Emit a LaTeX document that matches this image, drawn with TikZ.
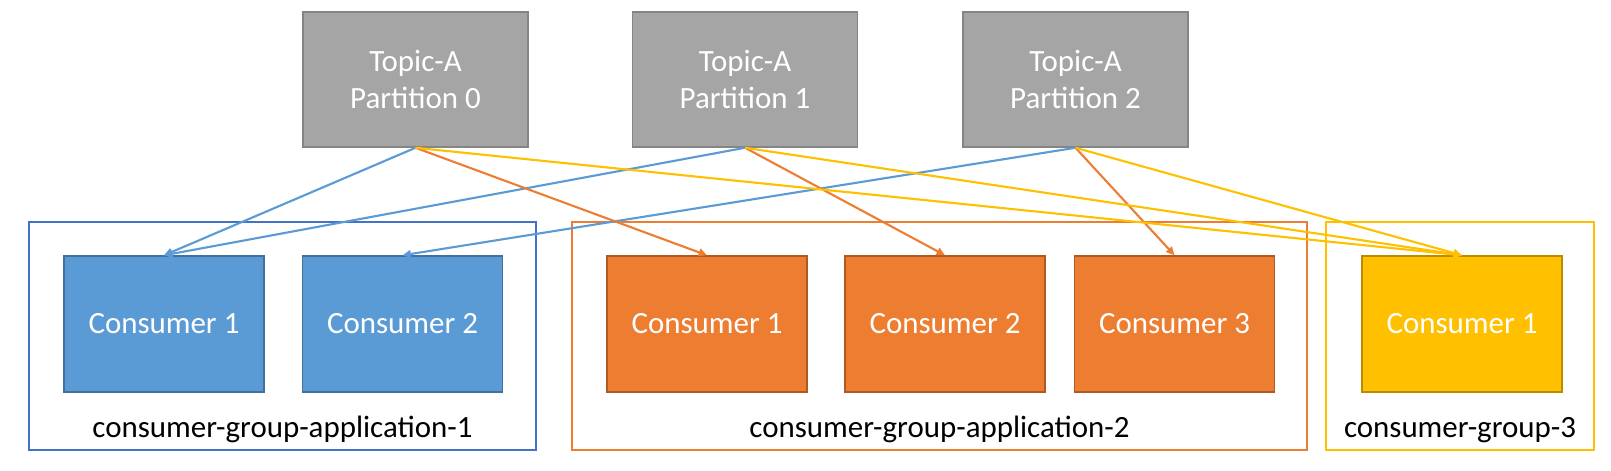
\documentclass[tikz,border=0pt]{standalone}
\usepackage{fontspec}
\setmainfont{Carlito}
\usetikzlibrary{arrows.meta}

% Office-like colours
\definecolor{topicfill}{HTML}{A5A5A5}
\definecolor{topicedge}{HTML}{858585}
\definecolor{bluefill}{HTML}{5B9BD5}
\definecolor{blueedge}{HTML}{41719C}
\definecolor{bluegroup}{HTML}{4472C4}
\definecolor{orangefill}{HTML}{ED7D31}
\definecolor{orangeedge}{HTML}{AE5A21}
\definecolor{yellowfill}{HTML}{FFC000}
\definecolor{yellowedge}{HTML}{BC8C00}

\begin{document}
\begin{tikzpicture}[
  boxfont/.style={font=\fontsize{22}{26.4}\selectfont},
  topic/.style={draw=topicedge, fill=topicfill, line width=1.1pt, boxfont, text=white, align=center, minimum width=5.625cm, minimum height=3.375cm},
  consumer/.style={line width=1pt, boxfont, text=white, minimum width=5cm, minimum height=3.4cm},
  group/.style={line width=1pt, minimum height=5.7cm},
  grouplabel/.style={boxfont, anchor=base},
  flow/.style={line width=1.5pt, -{Triangle[length=6pt,width=5.5pt]}}
]
\useasboundingbox (0,0) rectangle (40.275,11.75);

% Consumer groups (drawn first, they sit behind)
\node[group, draw=bluegroup, minimum width=12.675cm] (g1) at (7.0625, 3.35) {};
\node[group, draw=orangefill, minimum width=18.375cm] (g2) at (23.4875, 3.35) {};
\node[group, draw=yellowfill, minimum width=6.7cm] (g3) at (36.5, 3.35) {};
\node[grouplabel] (g1label) at (7.0625, 0.8) {consumer-group-application-1};
\node[grouplabel] (g2label) at (23.4875, 0.8) {consumer-group-application-2};
\node[grouplabel] (g3label) at (36.5, 0.8) {consumer-group-3};

% Topic partitions
\node[topic] (p0) at (10.3875, 9.7625) {Topic-A\\Partition 0};
\node[topic] (p1) at (18.625, 9.7625) {Topic-A\\Partition 1};
\node[topic] (p2) at (26.8875, 9.7625) {Topic-A\\Partition 2};

% Consumers
\node[consumer, draw=blueedge, fill=bluefill] (b1) at (4.1, 3.65) {Consumer 1};
\node[consumer, draw=blueedge, fill=bluefill] (b2) at (10.0625, 3.65) {Consumer 2};
\node[consumer, draw=orangeedge, fill=orangefill] (o1) at (17.675, 3.65) {Consumer 1};
\node[consumer, draw=orangeedge, fill=orangefill] (o2) at (23.625, 3.65) {Consumer 2};
\node[consumer, draw=orangeedge, fill=orangefill] (o3) at (29.3625, 3.65) {Consumer 3};
\node[consumer, draw=yellowedge, fill=yellowfill] (y1) at (36.55, 3.65) {Consumer 1};

% Assignments
\draw[flow, bluefill] (p0.south) -- (b1.north);
\draw[flow, bluefill] (p1.south) -- (b1.north);
\draw[flow, bluefill] (p2.south) -- (b2.north);
\draw[flow, orangefill] (p0.south) -- (o1.north);
\draw[flow, orangefill] (p1.south) -- (o2.north);
\draw[flow, orangefill] (p2.south) -- (o3.north);
\draw[flow, yellowfill] (p0.south) -- (y1.north);
\draw[flow, yellowfill] (p1.south) -- (y1.north);
\draw[flow, yellowfill] (p2.south) -- (y1.north);
\end{tikzpicture}
\end{document}
